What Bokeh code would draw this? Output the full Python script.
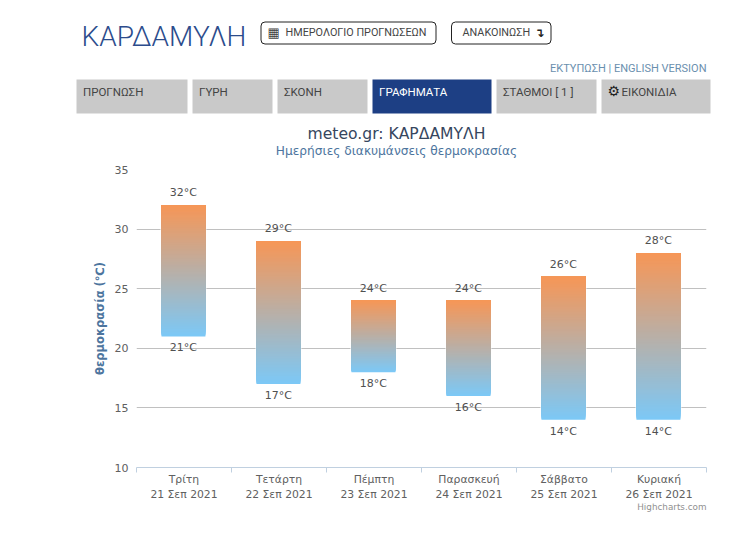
from bokeh.plotting import figure
from bokeh.layouts import column, row
from bokeh.models import Label, BoxAnnotation, FixedTicker, Range1d, ColumnDataSource
from bokeh.core.properties import value
from bokeh.embed import file_html
from bokeh.resources import INLINE

days = ["Τρίτη", "Τετάρτη", "Πέμπτη", "Παρασκευή", "Σάββατο", "Κυριακή"]
dates = ["21 Σεπ 2021", "22 Σεπ 2021", "23 Σεπ 2021", "24 Σεπ 2021", "25 Σεπ 2021", "26 Σεπ 2021"]
highs = [32, 29, 24, 24, 26, 28]
lows = [21, 17, 18, 16, 14, 14]
y_ticks = [10, 15, 20, 25, 30, 35]
TOP_COL = (247, 150, 86)
BOT_COL = (124, 200, 246)
TXT = "#606060"
W = 726
HEAD_H = 160
CHART_BOTTOM = 503
FOOT_H = 16


def canvas(h, y0):
    f = figure(width=W, height=h, output_backend="svg", toolbar_location=None,
               x_range=Range1d(0, W), y_range=Range1d(y0 + h, y0),
               min_border=0, x_axis_location=None, y_axis_location=None)
    f.outline_line_color = None
    f.grid.visible = False
    return f


def txt(f, x, y, s, size, color, font="Roboto", align="left", style="normal"):
    f.add_layout(Label(x=x, y=y, text=s, text_font=font, text_font_size=f"{size}px", text_color=color,
                       text_align=align, text_baseline="middle", text_font_style=style))


def box(f, x0, y0, x1, y1, fill, line=None):
    f.add_layout(BoxAnnotation(left=x0, right=x1, top=y0, bottom=y1, fill_color=fill, fill_alpha=1,
                               line_color=line, line_alpha=1, border_radius=4 if line else 0))


head = canvas(HEAD_H, 0)
txt(head, 81, 36, "ΚΑΡΔΑΜΥΛΗ", 28, "#2C4C8C", font="'Roboto Light', Roboto")
box(head, 260.5, 21.5, 435.5, 43.5, "white", "#222222")
txt(head, 267, 32, "▦", 13, "#444444", font="DejaVu Sans")
txt(head, 285, 32, "ΗΜΕΡΟΛΟΓΙΟ ΠΡΟΓΝΩΣΕΩΝ", 10.8, "#444444")
box(head, 451, 21.5, 550.5, 43.5, "white", "#222222")
txt(head, 462, 32, "ΑΝΑΚΟΙΝΩΣΗ", 10.8, "#444444")
txt(head, 534, 32, "↴", 12, "#222222", font="DejaVu Sans", style="bold")
txt(head, 706, 68, "ΕΚΤΥΠΩΣΗ | ENGLISH VERSION", 11, "#6A8FAE", align="right")

tabs = [(76, 187, "ΠΡΟΓΝΩΣΗ"), (192, 272, "ΓΥΡΗ"), (277, 367, "ΣΚΟΝΗ"), (372, 491, "ΓΡΑΦΗΜΑΤΑ"),
        (496, 596, "ΣΤΑΘΜΟΙ  [ 1 ]"), (601, 710, "ΕΙΚΟΝΙΔΙΑ")]
for x0, x1, s in tabs:
    active = s == "ΓΡΑΦΗΜΑΤΑ"
    box(head, x0, 79, x1, 113, "#1D3F84" if active else "#C9C9C9")
    tx = 621 if s == "ΕΙΚΟΝΙΔΙΑ" else x0 + 6.5
    txt(head, tx, 91, s, 11.5, "white" if active else "#444444")
txt(head, 607, 90, "⚙", 14, "#222222", font="DejaVu Sans", style="bold")

txt(head, 396, 133, "meteo.gr: ΚΑΡΔΑΜΥΛΗ", 15.6, "#36465E", font="DejaVu Sans", align="center")
txt(head, 396, 150, "Ημερήσιες διακυμάνσεις θερμοκρασίας", 12.2, "#4D759E", font="DejaVu Sans", align="center")

p = figure(width=W, height=CHART_BOTTOM - HEAD_H, output_backend="svg", toolbar_location=None,
           x_range=Range1d(-0.5, 5.5), y_range=Range1d(10, 35),
           min_border_left=136, min_border_top=169 - HEAD_H, min_border_right=W - 706,
           min_border_bottom=CHART_BOTTOM - 468)
p.outline_line_color = None
p.xgrid.visible = False
p.ygrid.ticker = FixedTicker(ticks=y_ticks)
p.ygrid.grid_line_color = "#C0C0C0"
p.ygrid.level = "underlay"

ax = p.xaxis[0]
ax.ticker = FixedTicker(ticks=list(range(6)), minor_ticks=[i - 0.5 for i in range(7)])
ax.major_tick_line_color = None
ax.major_tick_out = 0
ax.major_tick_in = 0
ax.minor_tick_out = 5
ax.minor_tick_in = 0
ax.minor_tick_line_color = "#C0D0E0"
ax.axis_line_color = "#C0D0E0"
ax.major_label_overrides = {i: f"{d}\n{t}" for i, (d, t) in enumerate(zip(days, dates))}
ax.major_label_text_font = "DejaVu Sans"
ax.major_label_text_font_size = "10.8px"
ax.major_label_text_color = TXT
ax.major_label_text_line_height = 1.18
ax.major_label_standoff = 0

ay = p.yaxis[0]
ay.ticker = FixedTicker(ticks=y_ticks)
ay.axis_line_color = None
ay.major_tick_line_color = None
ay.major_tick_out = 0
ay.major_tick_in = 0
ay.minor_tick_line_color = None
ay.major_label_text_font = "DejaVu Sans"
ay.major_label_text_font_size = "11px"
ay.major_label_text_color = TXT
ay.major_label_standoff = 8
ay.axis_label = "θερμοκρασία (℃)"
ay.axis_label_text_font = "DejaVu Sans"
ay.axis_label_text_font_style = "bold"
ay.axis_label_text_font_size = "11.5px"
ay.axis_label_text_color = "#4D759E"
ay.axis_label_standoff = 5

BAR_W = 0.463
NUDGE = -0.006
STEPS = 130
centers = [i + NUDGE for i in range(6)]
xs, bots, cols, tops = [], [], [], []
for c, hi, lo in zip(centers, highs, lows):
    for s in range(STEPS):
        f = s / STEPS
        xs.append(c)
        bots.append(lo + (hi - lo) * f)
        tops.append(hi)
        cols.append("#%02x%02x%02x" % tuple(round(b + (t - b) * f) for t, b in zip(TOP_COL, BOT_COL)))

# white halo that breaks the gridlines around each bar
p.vbar(x=centers, top=highs, bottom=lows, width=BAR_W + 0.02, fill_color="white", line_color=None)
p.vbar(x=xs, top=tops, bottom=bots, width=BAR_W, fill_color=cols, line_color=None)

src = ColumnDataSource(dict(x=centers, hi=highs, lo=lows,
                            hl=[f"{v}°C" for v in highs], ll=[f"{v}°C" for v in lows]))
for col, lab, off, base in (("hi", "hl", -6, "bottom"), ("lo", "ll", 5, "top")):
    p.text(x="x", y=col, text=lab, source=src, text_align="center", text_baseline=base, y_offset=off,
           text_font=value("DejaVu Sans"), text_font_size="11px", text_color="#505050")

foot = canvas(FOOT_H, CHART_BOTTOM)
txt(foot, 706, 506.5, "Highcharts.com", 8.8, "#909090", font="DejaVu Sans", align="right")

page = column(row(head), row(p), row(foot), spacing=0)
open("out.html", "w").write(file_html(page, INLINE))
